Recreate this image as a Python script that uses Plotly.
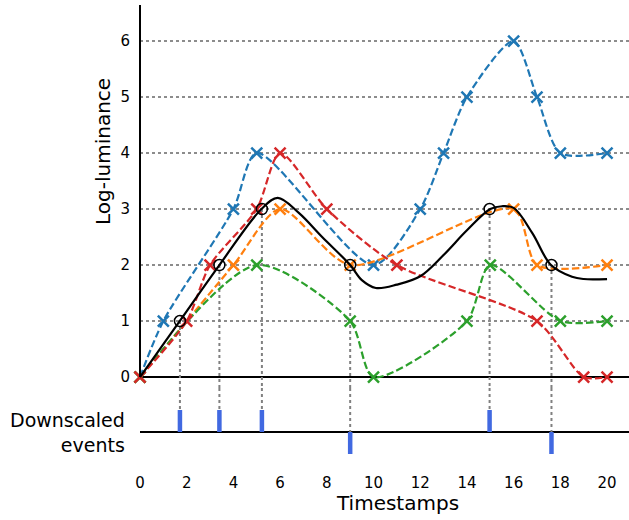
import plotly.graph_objects as go

# ---- data ----
blue_x = [0, 1, 4, 5, 10, 12, 13, 14, 16, 17, 18, 20]
blue_y = [0, 1, 3, 4, 2, 3, 4, 5, 6, 5, 4, 4]

orange_x = [0, 4, 6, 9, 16, 17, 20]
orange_y = [0, 2, 3, 2, 3, 2, 2]

green_x = [0, 5, 9, 10, 14, 15, 18, 20]
green_y = [0, 2, 1, 0, 1, 2, 1, 1]

red_x = [0, 2, 3, 5, 6, 8, 11, 17, 19, 20]
red_y = [0, 1, 2, 3, 4, 3, 2, 1, 0, 0]

mean_x = [0, 1.7, 3.4, 5.2, 5.9, 6.8, 7.8, 9.0, 9.5, 10.1, 11, 12, 13, 14, 15, 15.5, 16, 16.8, 17.6, 18.5, 19, 20]
mean_y = [0, 1, 2, 3, 3.2, 2.93, 2.5, 2.0, 1.73, 1.59, 1.65, 1.8, 2.18, 2.62, 3.0, 3.05, 3.02, 2.57, 2.0, 1.79, 1.75, 1.75]

event_times = [1.71, 3.4, 5.22, 9.0, 14.97, 17.62]
event_levels = [1, 2, 3, 2, 3, 2]
event_polarity = [1, 1, 1, -1, 1, -1]

x_ticks = list(range(0, 21, 2))
y_ticks = [0, 1, 2, 3, 4, 5, 6]

# ---- styling ----
FONT = "DejaVu Sans"
top_range = [-0.196, 6.643]
bot_range = [-1.727, 2.0]
split = 0.1763
dash = "7.4px,3.2px"

fig = go.Figure()

# vertical dotted guide lines (top panel)
vx, vy = [], []
for t, lv in zip(event_times, event_levels):
    vx += [t, t, None]
    vy += [lv, top_range[0], None]
fig.add_trace(go.Scatter(x=vx, y=vy, mode="lines", xaxis="x", yaxis="y",
                         line=dict(color="#808080", width=2, dash="dot"),
                         hoverinfo="skip", showlegend=False))
# vertical dotted guide lines (bottom panel)
vx2, vy2 = [], []
for t, p in zip(event_times, event_polarity):
    vx2 += [t, t, None]
    vy2 += [bot_range[1], 1 if p > 0 else 0, None]
fig.add_trace(go.Scatter(x=vx2, y=vy2, mode="lines", xaxis="x", yaxis="y2",
                         line=dict(color="#808080", width=2, dash="dot"),
                         hoverinfo="skip", showlegend=False))

series = [
    (blue_x, blue_y, "#1f77b4"),
    (orange_x, orange_y, "#ff7f0e"),
    (green_x, green_y, "#2ca02c"),
    (red_x, red_y, "#d62728"),
]
for xs, ys, c in series:
    fig.add_trace(go.Scatter(
        x=xs, y=ys, mode="lines+markers", xaxis="x", yaxis="y",
        line=dict(color=c, width=2.2, dash=dash, shape="spline", smoothing=0.75),
        marker=dict(symbol="x-thin", size=11, color=c, line=dict(width=2.5, color=c)),
        cliponaxis=False, showlegend=False))

fig.add_trace(go.Scatter(
    x=mean_x, y=mean_y, mode="lines", xaxis="x", yaxis="y",
    line=dict(color="black", width=2.2, shape="spline", smoothing=1),
    showlegend=False))

fig.add_trace(go.Scatter(
    x=event_times, y=event_levels, mode="markers", xaxis="x", yaxis="y",
    marker=dict(symbol="circle-open", size=11, color="black", line=dict(width=1.5, color="black")),
    cliponaxis=False, showlegend=False))

# event ticks
ex, ey = [], []
for t, p in zip(event_times, event_polarity):
    ex += [t, t, None]
    ey += [0, p, None]
fig.add_trace(go.Scatter(x=ex, y=ey, mode="lines", xaxis="x", yaxis="y2",
                         line=dict(color="#4169e1", width=4.5),
                         showlegend=False))

fig.update_layout(
    width=629, height=520,
    margin=dict(l=140, r=0, t=5, b=50),
    paper_bgcolor="white", plot_bgcolor="white",
    font=dict(family=FONT, size=15, color="black"),
    xaxis=dict(domain=[0, 1], range=[0, 20.94], anchor="y2",
               tickvals=x_ticks, showgrid=False, zeroline=False, showline=False,
               ticks="", tickfont=dict(size=15), ticklabelstandoff=2),
    yaxis=dict(domain=[split, 1], range=top_range, anchor="x",
               tickvals=y_ticks, showgrid=True, gridcolor="#8c8c8c", gridwidth=2,
               griddash="dot", zeroline=True, zerolinecolor="black", zerolinewidth=2,
               showline=False, ticks="", tickfont=dict(size=15), ticklabelstandoff=9),
    yaxis2=dict(domain=[0, split], range=bot_range, anchor="x",
                showticklabels=False, showgrid=False, zeroline=True,
                zerolinecolor="black", zerolinewidth=2, showline=False, ticks=""),
    shapes=[dict(type="line", xref="paper", yref="y", x0=0, x1=0,
                 y0=0, y1=top_range[1], line=dict(color="black", width=2))],
    annotations=[
        dict(text="Log-luminance", xref="paper", yref="paper", x=(103 - 140) / 489,
             y=(470 - 152) / 465, textangle=-90, showarrow=False,
             xanchor="center", yanchor="middle", font=dict(size=20)),
        dict(text="Downscaled<br>events", xref="paper", yref="paper", x=-13 / 489,
             y=(470 - 432) / 465, showarrow=False, align="right",
             xanchor="right", yanchor="middle", font=dict(size=19)),
        dict(text="Timestamps", xref="paper", yref="paper", x=(397 - 140) / 489,
             y=(470 - 503) / 465, showarrow=False,
             xanchor="center", yanchor="middle", font=dict(size=20)),
    ],
)

fig.write_html("out.html")
